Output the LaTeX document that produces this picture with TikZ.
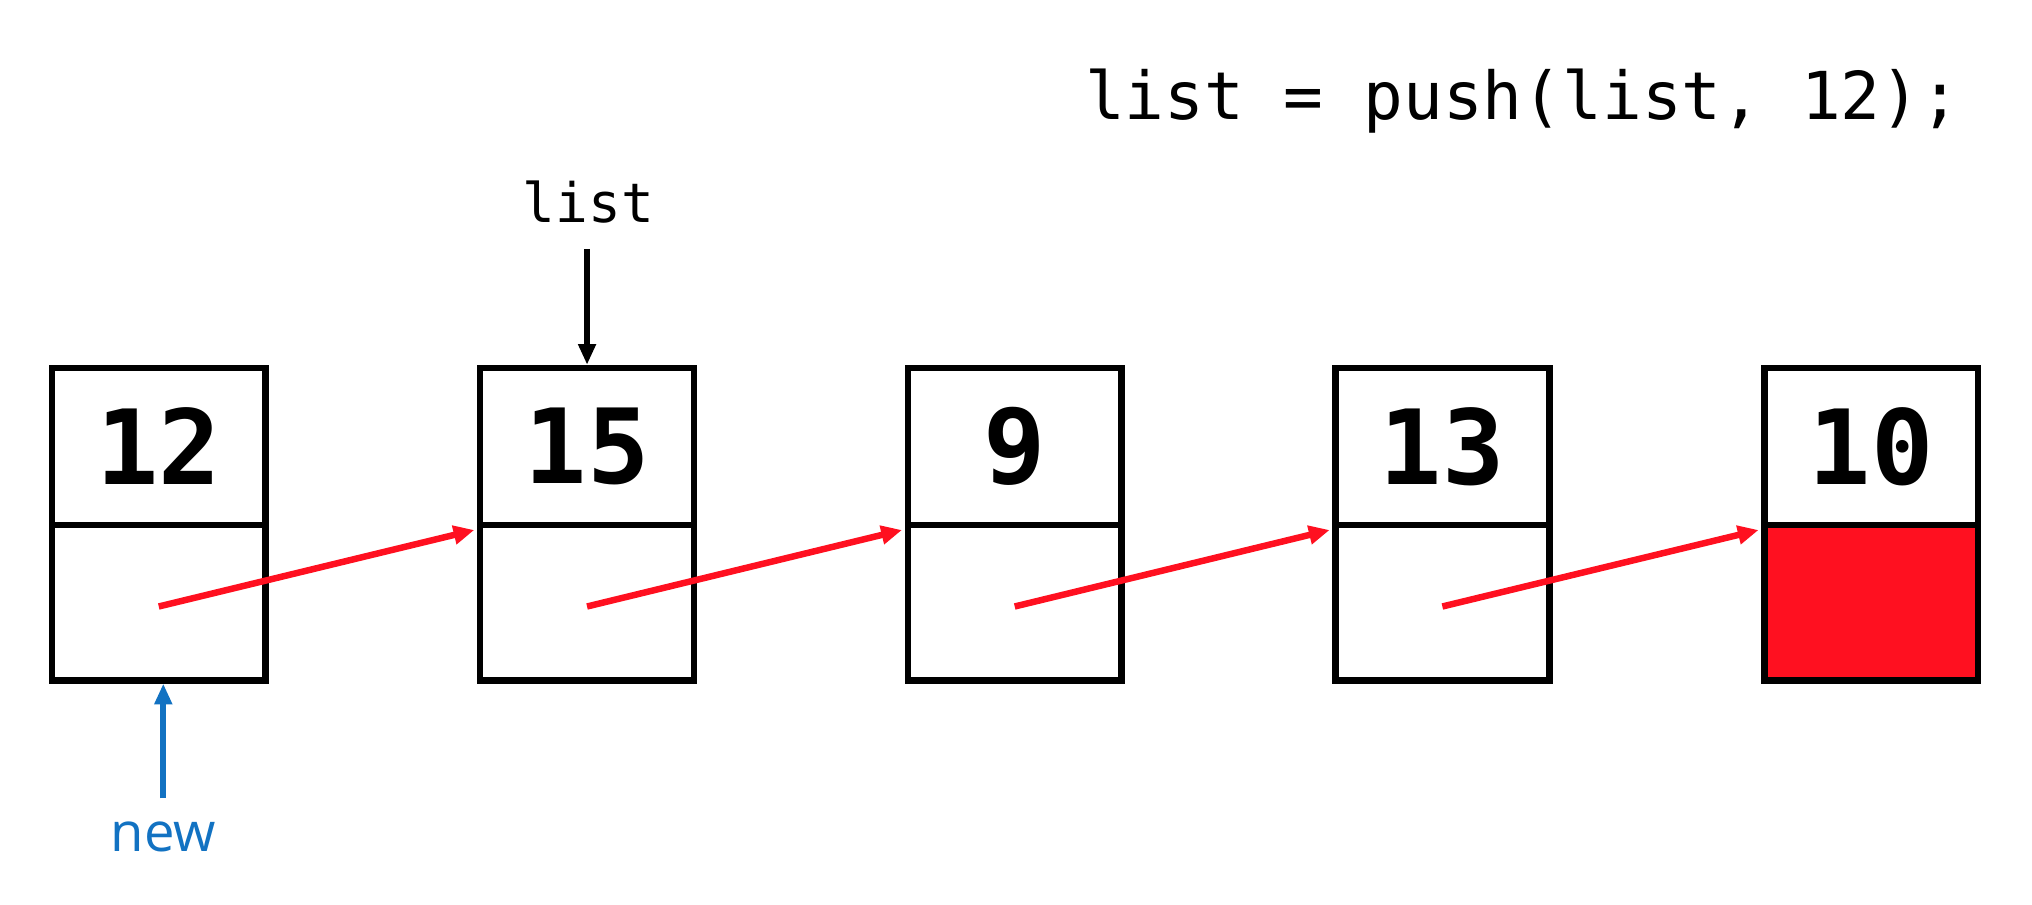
\documentclass[tikz,border=0pt]{standalone}
\usepackage{fontspec}
\setmonofont{DejaVu Sans Mono}
\newfontfamily\labelfont{Open Sans}
\usetikzlibrary{arrows.meta,calc}
\definecolor{linkred}{RGB}{255,16,32}
\definecolor{newblue}{RGB}{18,114,194}
\begin{document}
\begin{tikzpicture}[x=1pt,y=-1pt,
  cell/.style={draw=black,line width=5pt,minimum width=165pt,inner sep=0pt,outer sep=2.5pt},
  valcell/.style={cell,minimum height=121pt,font=\ttfamily\bfseries\fontsize{80}{80}\selectfont},
  ptrcell/.style={cell,minimum height=120pt},
  link/.style={draw=linkred,line width=5pt,-{Triangle[length=16pt,width=14pt]}},
  ptr/.style={line width=4.5pt,-{Triangle[length=16pt,width=13pt]}},
  codetext/.style={font=\ttfamily\fontsize{51}{51}\selectfont,inner sep=0pt},
]
\useasboundingbox (0,0) rectangle (1568,698);

% the five list nodes: value cell on top, pointer cell below
\foreach \i/\x/\v in {1/122.5/12, 2/453/15, 3/783/9, 4/1113/13, 5/1444/10} {
  \node[valcell] (v\i) at (\x,344.5) {\v};
  \node[ptrcell] (p\i) at (\x,465) {};
}
\node[ptrcell,fill=linkred] at (p5) {};

% next pointers
\foreach \i/\j in {1/2, 2/3, 3/4, 4/5} {
  \draw[link] ($(p\i.center)+(0,3)$) -- ($(v\j.south west)+(-2,1.5)$);
}

% statement and variable labels
\node[codetext,anchor=base] (stmt) at (1175,92) {list = push(list, 12);};
\node[codetext,font=\ttfamily\fontsize{42}{42}\selectfont,anchor=base] (listlbl) at (454,172) {list};
\coordinate (listtail) at (453,192);
\draw[ptr,black] (listtail) -- (v2.north);

\node[inner sep=0pt,anchor=base,text=newblue,font=\labelfont\fontsize{42}{42}\selectfont] (newlbl) at (126,657) {new};
\coordinate (newtail) at (126,616);
\draw[ptr,newblue] (newtail) -- ($(p1.south)+(3.5,0)$);
\end{tikzpicture}
\end{document}
